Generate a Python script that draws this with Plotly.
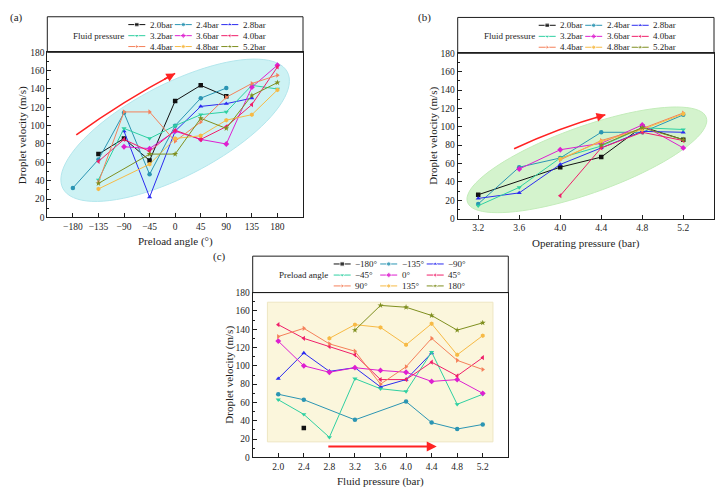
import numpy as np
import plotly.graph_objects as go

W, H = 721, 497
SERIF = "Liberation Serif"
INK = "#1e1e1e"

pressure_labels = ["2.0bar", "2.4bar", "2.8bar", "3.2bar", "3.6bar",
                   "4.0bar", "4.4bar", "4.8bar", "5.2bar"]
angle_labels = ["\u2212180\u00b0", "\u2212135\u00b0", "\u221290\u00b0", "\u221245\u00b0", "0\u00b0",
                "45\u00b0", "90\u00b0", "135\u00b0", "180\u00b0"]

colors = ["#111111", "#2b95b3", "#2b2bf0", "#2fd0a2", "#de1fd0",
          "#f01f6a", "#f5805a", "#f7ba45", "#7f8f1f"]
symbols = ["square", "circle", "triangle-up", "triangle-down", "diamond",
           "triangle-left", "triangle-right", "hexagon", "star"]

# (a) droplet velocity vs preload angle, one series per fluid pressure
a_x = [
    [-135, -90, -45, 0, 45, 90],
    [-180, -135, -90, -45, 0, 45, 90],
    [-90, -45, 0, 45, 90, 135],
    [-135, -90, -45, 0, 45, 90, 135, 180],
    [-90, -45, 0, 45, 90, 135, 180],
    [-135, -90, -45, 0, 45, 90, 135, 180],
    [-135, -90, -45, 0, 45, 90, 135, 180],
    [-135, -45, 0, 45, 90, 135, 180],
    [-135, -45, 0, 45, 90, 135, 180],
]
a_y = [
    [69, 86, 62, 127, 144, 132],
    [32, 63, 114, 47, 100, 130, 141],
    [94, 22, 94, 121, 124, 130],
    [41, 97, 86, 100, 112, 115, 144, 140],
    [77, 75, 94, 85, 80, 142, 166],
    [61, 85, 72, 95, 85, 99, 123, 164],
    [38, 115, 115, 83, 104, 131, 146, 155],
    [31, 58, 86, 89, 106, 112, 139],
    [37, 69, 69, 108, 97, 133, 147],
]

# (b) droplet velocity vs operating pressure
b_x = [
    [3.2, 4.0, 4.4, 4.8, 5.2],
    [3.2, 3.6, 4.0, 4.4, 4.8, 5.2],
    [3.2, 3.6, 4.0, 4.4, 4.8, 5.2],
    [3.2, 3.6, 4.0, 4.4, 4.8, 5.2],
    [3.6, 4.0, 4.4, 4.8, 5.2],
    [4.0, 4.4, 4.8, 5.2],
    [4.0, 4.4, 4.8, 5.2],
    [4.0, 4.4, 4.8, 5.2],
    [4.4, 4.8, 5.2],
]
b_y = [
    [26, 56, 67, 100, 86],
    [16, 56, 66, 94, 94, 113],
    [22, 28, 59, 77, 95, 94],
    [14, 34, 66, 79, 99, 97],
    [54, 75, 82, 102, 77],
    [25, 77, 94, 85],
    [64, 85, 98, 115],
    [65, 84, 97, 114],
    [80, 99, 86],
]

# (c) droplet velocity vs fluid pressure, one series per preload angle
full_p = [2.0, 2.4, 2.8, 3.2, 3.6, 4.0, 4.4, 4.8, 5.2]
c_x = [
    [2.4],
    [2.0, 2.4, 3.2, 4.0, 4.4, 4.8, 5.2],
    [2.0, 2.4, 2.8, 3.2, 3.6, 4.0, 4.4],
    full_p,
    full_p,
    full_p,
    full_p,
    [2.8, 3.2, 3.6, 4.0, 4.4, 4.8, 5.2],
    [3.2, 3.6, 4.0, 4.4, 4.8, 5.2],
]
c_y = [
    [32],
    [69, 63, 41, 61, 38, 31, 36],
    [86, 114, 94, 98, 77, 85, 114],
    [63, 47, 22, 86, 75, 72, 115, 58, 69],
    [127, 100, 93, 98, 95, 93, 83, 85, 70],
    [145, 130, 121, 112, 85, 85, 104, 89, 109],
    [132, 141, 124, 116, 80, 99, 130, 106, 96],
    [130, 145, 142, 123, 146, 112, 133],
    [139, 166, 164, 155, 139, 147],
]

a_ticks = list(range(-180, 181, 45))
b_ticks = [3.2, 3.6, 4.0, 4.4, 4.8, 5.2]
c_ticks = [2.0, 2.4, 2.8, 3.2, 3.6, 4.0, 4.4, 4.8, 5.2]

# panel geometry in pixels
panels = {
    "a": dict(left=47.3, right=303.0, box=12.0, top=48.3, bottom=216.7,
              xr=[-225, 225], ticks=a_ticks, fmt="", n="", ln="4",
              xtitle="Preload angle (\u00b0)", legtitle="Fluid pressure",
              names=pressure_labels, tag="(a)", tagxy=(16, 13)),
    "b": dict(left=457.7, right=714.0, box=12.7, top=49.3, bottom=218.0,
              xr=[3.0, 5.5], ticks=b_ticks, fmt=".1f", n="2", ln="5",
              xtitle="Operating pressure (bar)", legtitle="Fluid pressure",
              names=pressure_labels, tag="(b)", tagxy=(425, 13)),
    "c": dict(left=252.7, right=508.3, box=256.3, top=293.5, bottom=461.7,
              xr=[1.6, 5.6], ticks=c_ticks, fmt=".1f", n="3", ln="6",
              xtitle="Fluid pressure (bar)", legtitle="Preload angle",
              names=angle_labels, tag="(c)", tagxy=(220, 257)),
}
data = {"a": (a_x, a_y), "b": (b_x, b_y), "c": (c_x, c_y)}

COL_OFF = [81, 127.5, 174]
ROW_OFF = [8, 19.3, 30.4]


def scale(p):
    sx = (p["right"] - p["left"]) / (p["xr"][1] - p["xr"][0])
    sy = (p["bottom"] - p["top"]) / 180.0
    return sx, sy


def ellipse_path(p, cx, cy, a, b, ang):
    sx, sy = scale(p)
    t = np.linspace(0, 2 * np.pi, 91)
    th = np.radians(ang)
    dx = a * np.cos(t) * np.cos(th) - b * np.sin(t) * np.sin(th)
    dy = a * np.cos(t) * np.sin(th) + b * np.sin(t) * np.cos(th)
    xs, ys = cx + dx / sx, cy + dy / sy
    return "M " + " L ".join(f"{x:.3f},{y:.3f}" for x, y in zip(xs, ys)) + " Z"


def arc(p, start, end, bulge):
    sx, sy = scale(p)
    x0, y0 = start[0] * sx, start[1] * sy
    x1, y1 = end[0] * sx, end[1] * sy
    L = np.hypot(x1 - x0, y1 - y0)
    nx, ny = -(y1 - y0) / L, (x1 - x0) / L
    qx, qy = (x0 + x1) / 2 + bulge * nx, (y0 + y1) / 2 + bulge * ny
    ctrl = (qx / sx, qy / sy)
    t = 0.88
    tail = ((1 - t) ** 2 * start[0] + 2 * (1 - t) * t * ctrl[0] + t * t * end[0],
            (1 - t) ** 2 * start[1] + 2 * (1 - t) * t * ctrl[1] + t * t * end[1])
    path = f"M {start[0]},{start[1]} Q {ctrl[0]},{ctrl[1]} {end[0]},{end[1]}"
    return path, tail


fig = go.Figure()
shapes, annotations = [], []
layout = {}

for key, p in panels.items():
    xa, ya = "x" + p["n"], "y" + p["n"]
    lx, ly = "x" + p["ln"], "y" + p["ln"]
    xs, ys = data[key]
    for i in range(9):
        fig.add_trace(go.Scatter(
            x=xs[i], y=ys[i], xaxis=xa, yaxis=ya, mode="lines+markers",
            line=dict(color=colors[i], width=1),
            marker=dict(color=colors[i], symbol=symbols[i], size=4.5),
            showlegend=False, name=p["names"][i]))

    layout["xaxis" + p["n"]] = dict(
        domain=[p["left"] / W, p["right"] / W], range=p["xr"], anchor=ya,
        tickvals=p["ticks"], tickformat=p["fmt"], ticks="inside", ticklen=4,
        showline=True, mirror=True, linecolor=INK, linewidth=1, tickcolor=INK,
        showgrid=False, zeroline=False, tickfont=dict(size=9.5, color=INK))
    layout["yaxis" + p["n"]] = dict(
        domain=[1 - p["bottom"] / H, 1 - p["top"] / H], range=[0, 180], anchor=xa,
        dtick=20, ticks="inside", ticklen=4,
        minor=dict(ticks="inside", ticklen=2, dtick=10, tickcolor=INK),
        showline=True, mirror=True, linecolor=INK, linewidth=1, tickcolor=INK,
        showgrid=False, zeroline=False, tickfont=dict(size=9.5, color=INK))

    # legend box above the plot area
    bw, bh = p["right"] - p["left"], p["top"] - p["box"]
    layout["xaxis" + p["ln"]] = dict(domain=[p["left"] / W, p["right"] / W],
                                     range=[0, bw], visible=False, anchor=ly)
    layout["yaxis" + p["ln"]] = dict(domain=[1 - p["top"] / H, 1 - p["box"] / H],
                                     range=[bh, 0], visible=False, anchor=lx)
    shapes.append(dict(type="rect", xref="paper", yref="paper",
                       x0=p["left"] / W, x1=p["right"] / W,
                       y0=1 - p["top"] / H, y1=1 - p["box"] / H,
                       line=dict(color=INK, width=1)))
    for i in range(9):
        r, c = divmod(i, 3)
        x0, y0 = COL_OFF[c], ROW_OFF[r]
        fig.add_trace(go.Scatter(
            x=[x0, x0 + 8.5, x0 + 17], y=[y0, y0, y0], xaxis=lx, yaxis=ly,
            mode="lines+markers", line=dict(color=colors[i], width=1),
            marker=dict(color=colors[i], symbol=symbols[i], size=[0, 4.5, 0]),
            showlegend=False, hoverinfo="skip"))
        annotations.append(dict(xref=lx, yref=ly, x=x0 + 19.5, y=y0, text=p["names"][i],
                                showarrow=False, xanchor="left", yanchor="middle",
                                font=dict(size=9, color=INK)))
    annotations.append(dict(xref=lx, yref=ly, x=24, y=ROW_OFF[1], text=p["legtitle"],
                            showarrow=False, xanchor="left", yanchor="middle",
                            font=dict(size=9, color=INK)))

    # axis titles and panel tag
    cxp = (p["left"] + p["right"]) / 2
    annotations.append(dict(xref="paper", yref="paper", x=cxp / W,
                            y=1 - (p["bottom"] + 25) / H, text=p["xtitle"],
                            showarrow=False, xanchor="center", yanchor="middle",
                            font=dict(size=11, color=INK)))
    annotations.append(dict(xref="paper", yref="paper", x=(p["left"] - 24) / W,
                            y=1 - (p["top"] + p["bottom"]) / 2 / H,
                            text="Droplet velocity (m/s)", textangle=-90,
                            showarrow=False, xanchor="center", yanchor="middle",
                            font=dict(size=11, color=INK)))
    annotations.append(dict(xref="paper", yref="paper", x=p["tagxy"][0] / W,
                            y=1 - p["tagxy"][1] / H, text=p["tag"],
                            showarrow=False, xanchor="center", yanchor="middle",
                            font=dict(size=11, color=INK)))

# highlight regions
pa, pb = panels["a"], panels["b"]
shapes.append(dict(type="path", xref="x", yref="y", layer="below",
                   path=ellipse_path(pa, 0, 95, 127, 47, 28),
                   fillcolor="#cdf2f4", line=dict(color="#b3e6ec", width=1)))
shapes.append(dict(type="path", xref="x2", yref="y2", layer="below",
                   path=ellipse_path(pb, 4.26, 64, 127, 34, 20),
                   fillcolor="#d4f3cd", line=dict(color="#c3ecba", width=1)))
shapes.append(dict(type="rect", xref="x3", yref="y3", layer="below",
                   x0=1.83, x1=5.36, y0=17, y1=169.5,
                   fillcolor="#fbf6dc", line=dict(color="#eee6c2", width=1)))

# trend arrows
RED = "#ff2323"
for key, xa, ya, start, end in [("a", "x", "y", (-174, 90), (0, 157)),
                                ("b", "x2", "y2", (3.55, 76), (4.44, 113))]:
    path, tail = arc(panels[key], start, end, 4)
    shapes.append(dict(type="path", xref=xa, yref=ya, path=path,
                       line=dict(color=RED, width=1.6)))
    annotations.append(dict(xref=xa, yref=ya, axref=xa, ayref=ya, x=end[0], y=end[1],
                            ax=tail[0], ay=tail[1], text="", showarrow=True,
                            arrowhead=2, arrowsize=1.1, arrowwidth=1.6, arrowcolor=RED))
annotations.append(dict(xref="x3", yref="y3", axref="x3", ayref="y3", x=4.48, y=12,
                        ax=2.76, ay=12, text="", showarrow=True, arrowhead=2,
                        arrowsize=1, arrowwidth=2, arrowcolor=RED))

fig.update_layout(
    width=W, height=H, margin=dict(l=0, r=0, t=0, b=0),
    paper_bgcolor="white", plot_bgcolor="rgba(0,0,0,0)",
    font=dict(family=SERIF, color=INK), showlegend=False,
    shapes=shapes, annotations=annotations, **layout)

# drop the browser's default 8px page margin so the figure sits at the origin
fig.write_html("out.html", config={"displayModeBar": False},
               post_script="document.body.style.margin='0';")
